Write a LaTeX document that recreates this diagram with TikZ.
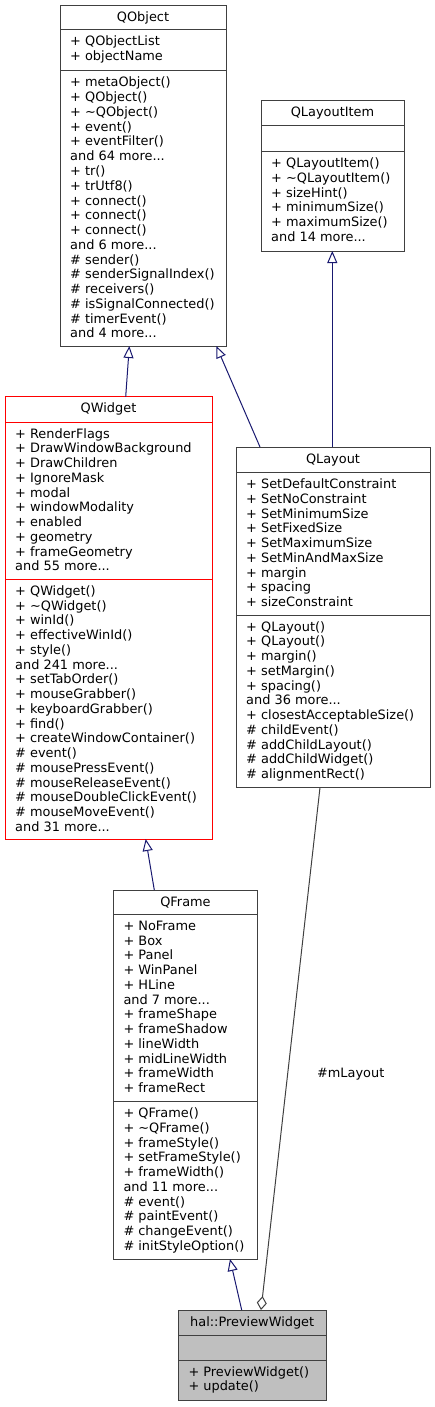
\documentclass[tikz,border=0pt]{standalone}
\usepackage{fontspec}
\setmainfont{DejaVu Sans}
\usetikzlibrary{arrows.meta}
\definecolor{boxgray}{HTML}{404040}
\definecolor{inhblue}{HTML}{191970}
\definecolor{pwfill}{HTML}{BFBFBF}
\newcommand{\mdots}{...}
\begin{document}
\begin{tikzpicture}
    [   x=1pt,y=-1pt,
        font=\fontsize{12.9}{14.75}\selectfont,
        cbox/.style={draw=#1,line width=1pt,inner sep=0pt,outer sep=0pt,anchor=north west},
        cline/.style={draw=#1,line width=1pt},
        ctext/.style={anchor=base west,inner sep=0pt},
        ctitle/.style={anchor=base,inner sep=0pt},
        inh/.style={draw=inhblue,line width=1pt,-{Triangle[open,length=12pt,width=10pt]}},
        usage/.style={draw=boxgray,line width=1pt,-{Diamond[open,length=14pt,width=10pt]}},
    ]
        \useasboundingbox (0,0) rectangle (434,1407);
        % QObject
        \node[cbox=boxgray,minimum width=166pt,minimum height=340pt] (qobject) at (60,6) {};
        \draw[cline=boxgray] (qobject.west |- 0,30) -- (qobject.east |- 0,30);
        \draw[cline=boxgray] (qobject.west |- 0,71) -- (qobject.east |- 0,71);
        \node[ctitle] (qobject-t) at (143,22) {QObject};
        \foreach \t [count=\i] in {+ QObjectList,+ objectName}
            \node[ctext] (qobject-a\i) at (70,{46+14.75*(\i-1)}) {\t};
        \foreach \t [count=\i] in {+ metaObject(),+ QObject(),+ \textasciitilde QObject(),+ event(),+ eventFilter(),and 64 more\mdots,+ tr(),+ trUtf8(),+ connect(),+ connect(),+ connect(),and 6 more\mdots,\# sender(),\# senderSignalIndex(),\# receivers(),\# isSignalConnected(),\# timerEvent(),and 4 more\mdots}
            \node[ctext] (qobject-m\i) at (70,{87+14.75*(\i-1)}) {\t};
        % QLayoutItem
        \node[cbox=boxgray,minimum width=143pt,minimum height=150pt] (qlayoutitem) at (261,101) {};
        \draw[cline=boxgray] (qlayoutitem.west |- 0,126) -- (qlayoutitem.east |- 0,126);
        \draw[cline=boxgray] (qlayoutitem.west |- 0,151.7) -- (qlayoutitem.east |- 0,151.7);
        \node[ctitle] (qlayoutitem-t) at (332.5,117) {QLayoutItem};
        \foreach \t [count=\i] in {+ QLayoutItem(),+ \textasciitilde QLayoutItem(),+ sizeHint(),+ minimumSize(),+ maximumSize(),and 14 more\mdots}
            \node[ctext] (qlayoutitem-m\i) at (271,{167.7+14.75*(\i-1)}) {\t};
        % QWidget
        \node[cbox=red,minimum width=207pt,minimum height=442.3pt] (qwidget) at (5,396.7) {};
        \draw[cline=red] (qwidget.west |- 0,422) -- (qwidget.east |- 0,422);
        \draw[cline=red] (qwidget.west |- 0,579.3) -- (qwidget.east |- 0,579.3);
        \node[ctitle] (qwidget-t) at (108.5,412.7) {QWidget};
        \foreach \t [count=\i] in {+ RenderFlags,+ DrawWindowBackground,+ DrawChildren,+ IgnoreMask,+ modal,+ windowModality,+ enabled,+ geometry,+ frameGeometry,and 55 more\mdots}
            \node[ctext] (qwidget-a\i) at (15,{438+14.75*(\i-1)}) {\t};
        \foreach \t [count=\i] in {+ QWidget(),+ \textasciitilde QWidget(),+ winId(),+ effectiveWinId(),+ style(),and 241 more\mdots,+ setTabOrder(),+ mouseGrabber(),+ keyboardGrabber(),+ find(),+ createWindowContainer(),\# event(),\# mousePressEvent(),\# mouseReleaseEvent(),\# mouseDoubleClickEvent(),\# mouseMoveEvent(),and 31 more\mdots}
            \node[ctext] (qwidget-m\i) at (15,{595.3+14.75*(\i-1)}) {\t};
        % QLayout
        \node[cbox=boxgray,minimum width=194pt,minimum height=340.5pt] (qlayout) at (236,447) {};
        \draw[cline=boxgray] (qlayout.west |- 0,472.7) -- (qlayout.east |- 0,472.7);
        \draw[cline=boxgray] (qlayout.west |- 0,615) -- (qlayout.east |- 0,615);
        \node[ctitle] (qlayout-t) at (333,463) {QLayout};
        \foreach \t [count=\i] in {+ SetDefaultConstraint,+ SetNoConstraint,+ SetMinimumSize,+ SetFixedSize,+ SetMaximumSize,+ SetMinAndMaxSize,+ margin,+ spacing,+ sizeConstraint}
            \node[ctext] (qlayout-a\i) at (246,{488.7+14.75*(\i-1)}) {\t};
        \foreach \t [count=\i] in {+ QLayout(),+ QLayout(),+ margin(),+ setMargin(),+ spacing(),and 36 more\mdots,+ closestAcceptableSize(),\# childEvent(),\# addChildLayout(),\# addChildWidget(),\# alignmentRect()}
            \node[ctext] (qlayout-m\i) at (246,{631+14.75*(\i-1)}) {\t};
        % QFrame
        \node[cbox=boxgray,minimum width=144.4pt,minimum height=369pt] (qframe) at (113.3,890) {};
        \draw[cline=boxgray] (qframe.west |- 0,914.3) -- (qframe.east |- 0,914.3);
        \draw[cline=boxgray] (qframe.west |- 0,1101.7) -- (qframe.east |- 0,1101.7);
        \node[ctitle] (qframe-t) at (185.5,906) {QFrame};
        \foreach \t [count=\i] in {+ NoFrame,+ Box,+ Panel,+ WinPanel,+ HLine,and 7 more\mdots,+ frameShape,+ frameShadow,+ lineWidth,+ midLineWidth,+ frameWidth,+ frameRect}
            \node[ctext] (qframe-a\i) at (123.3,{930.3+14.75*(\i-1)}) {\t};
        \foreach \t [count=\i] in {+ QFrame(),+ \textasciitilde QFrame(),+ frameStyle(),+ setFrameStyle(),+ frameWidth(),and 11 more\mdots,\# event(),\# paintEvent(),\# changeEvent(),\# initStyleOption()}
            \node[ctext] (qframe-m\i) at (123.3,{1117.7+14.75*(\i-1)}) {\t};
        % hal::PreviewWidget
        \node[cbox=boxgray,fill=pwfill,minimum width=147.7pt,minimum height=90pt] (preview) at (178.3,1310) {};
        \draw[cline=boxgray] (preview.west |- 0,1335) -- (preview.east |- 0,1335);
        \draw[cline=boxgray] (preview.west |- 0,1360) -- (preview.east |- 0,1360);
        \node[ctitle] (preview-t) at (252.2,1326) {hal::PreviewWidget};
        \foreach \t [count=\i] in {+ PreviewWidget(),+ update()}
            \node[ctext] (preview-m\i) at (188.3,{1376+14.75*(\i-1)}) {\t};
        % inheritance
        \draw[inh] ([xshift=120.7pt]qwidget.north west) -- ([xshift=69.3pt]qobject.south west);
        \draw[inh] ([xshift=24pt]qlayout.north west) -- ([xshift=156.3pt]qobject.south west);
        \draw[inh] ([xshift=96.3pt]qlayout.north west) -- ([xshift=71.3pt]qlayoutitem.south west);
        \draw[inh] ([xshift=41pt]qframe.north west) -- ([xshift=140.7pt]qwidget.south west);
        \draw[inh] ([xshift=63.4pt]preview.north west) -- ([xshift=116.7pt]qframe.south west);
        % member
        \draw[usage] ([xshift=84pt]qlayout.south west) -- ([xshift=82.7pt]preview.north west);
        \node[inner sep=0pt] (mlayout) at (350.7,1074) {\#mLayout};
\end{tikzpicture}
\end{document}
